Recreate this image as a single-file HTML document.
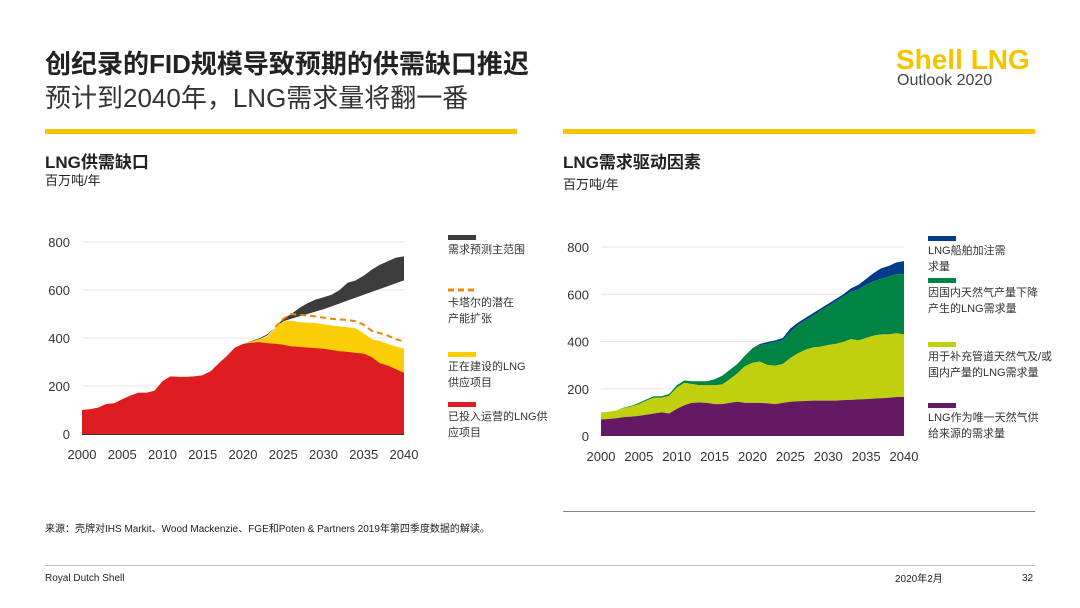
<!DOCTYPE html>
<html><head><meta charset="utf-8">
<style>
body{margin:0;width:1080px;height:608px;background:#fff;position:relative;overflow:hidden;font-family:"Liberation Sans","Noto Sans CJK SC",sans-serif;color:#222}
.a{position:absolute;white-space:nowrap}
</style></head><body>
<div class="a" style="left:45px;top:44px;font-size:26px;font-weight:bold;color:#222">创纪录的FID规模导致预期的供需缺口推迟</div>
<div class="a" style="left:45px;top:78px;font-size:26px;color:#333">预计到2040年，LNG需求量将翻一番</div>
<div class="a" style="left:896px;top:44px;font-size:28px;font-weight:bold;color:#f5c400">Shell LNG</div>
<div class="a" style="left:897px;top:72px;font-size:16px;color:#444">Outlook 2020</div>
<div class="a" style="left:45px;top:129px;width:472px;height:5px;background:#f5c400"></div>
<div class="a" style="left:563px;top:129px;width:472px;height:5px;background:#f5c400"></div>
<div class="a" style="left:45px;top:148px;font-size:17px;font-weight:bold">LNG供需缺口</div>
<div class="a" style="left:45px;top:170px;font-size:13px">百万吨/年</div>
<div class="a" style="left:563px;top:148px;font-size:17px;font-weight:bold">LNG需求驱动因素</div>
<div class="a" style="left:563px;top:174px;font-size:13px">百万吨/年</div>
<div class="a" style="left:563px;top:511px;width:472px;height:1px;background:#888"></div>
<div class="a" style="left:45px;top:520px;font-size:10px">来源：壳牌对IHS Markit、Wood Mackenzie、FGE和Poten &amp; Partners 2019年第四季度数据的解读。</div>
<div class="a" style="left:45px;top:565px;width:990px;height:1px;background:#bbb"></div>
<div class="a" style="left:45px;top:573px;font-size:10px">Royal Dutch Shell</div>
<div class="a" style="left:895px;top:570px;font-size:10px">2020年2月</div>
<div class="a" style="left:1022px;top:573px;font-size:10px">32</div>
<svg class="a" style="left:0;top:0" width="1080" height="608" id="svg"></svg>
<script>
const years=[];for(let y=2000;y<=2040;y++)years.push(y);
const xTicks=[2000,2005,2010,2015,2020,2025,2030,2035,2040];
const yTicks=[0,200,400,600,800];
// left chart data
const operating=[100,103,110,125,128,145,160,172,172,180,220,240,238,238,240,245,262,295,325,360,375,380,383,378,376,372,365,363,360,358,355,350,345,342,338,335,320,295,285,270,255];
const underConstruction=[100,103,110,125,128,145,160,172,172,180,220,240,238,238,240,245,262,295,325,360,375,385,395,405,440,470,472,466,464,462,458,452,448,445,440,420,395,388,375,365,355];
const demandLow=[null,null,null,null,null,null,null,null,null,null,null,null,null,null,null,null,null,null,null,null,375,385,395,410,445,470,480,490,500,510,520,532,544,556,568,580,592,604,616,628,640];
const demandHigh=[null,null,null,null,null,null,null,null,null,null,null,null,null,null,null,null,null,null,null,null,375,387,398,415,445,480,500,525,545,560,570,580,600,630,640,660,685,705,720,735,740];
const qatar=[null,null,null,null,null,null,null,null,null,null,null,null,null,null,null,null,null,null,null,null,null,null,null,null,445,480,500,497,493,490,485,480,477,475,470,455,430,420,410,395,385];
// right chart (cumulative tops)
const soleSource=[70,72,75,80,82,85,90,95,100,95,115,130,140,142,140,135,135,140,145,140,140,140,138,135,140,145,147,148,150,150,150,150,152,153,155,156,158,160,162,165,165];
const pipelineTop=[100,102,108,118,125,135,150,162,162,170,205,225,220,215,215,215,218,240,265,295,310,315,300,298,305,330,350,365,375,378,385,390,398,410,405,415,425,430,430,435,430];
const domesticTop=[100,102,108,120,128,140,155,168,168,178,215,235,232,232,232,240,255,280,305,340,370,385,390,398,405,440,470,490,510,530,550,570,590,610,620,640,655,665,675,685,685];
const bunkerTop=[100,102,108,120,128,140,155,168,168,178,215,235,232,232,232,240,255,280,305,340,372,390,398,405,415,455,480,500,520,540,560,580,600,625,640,665,690,710,720,735,740];

const svg=document.getElementById('svg');const NS='http://www.w3.org/2000/svg';
function mk(t,a,p){const e=document.createElementNS(NS,t);for(const k in a)e.setAttribute(k,a[k]);(p||svg).appendChild(e);return e;}
function makeAxes(x0,x1,y0,y1){return{x:y=>x0+(y-2000)/40*(x1-x0),y:v=>y0-(v/800)*(y0-y1)};}
function area(ax,top,bot,fill,name){let pts=[],bp=[];years.forEach((yr,i)=>{if(top[i]==null)return;pts.push(ax.x(yr)+','+ax.y(top[i]));bp.unshift(ax.x(yr)+','+ax.y(bot?bot[i]:0));});
 const e=mk('polygon',{points:pts.concat(bp).join(' '),fill:fill});
 
 }
function grid(ax,x0,x1,name){yTicks.forEach(v=>{if(v>0)mk('line',{x1:x0,x2:x1,y1:ax.y(v),y2:ax.y(v),stroke:'#e6e6e6','stroke-width':1});
 const t=mk('text',{x:x0-12,y:ax.y(v)+5,'text-anchor':'end','font-size':13,fill:'#333'});t.textContent=v;
 
 });
 xTicks.forEach(yr=>{const t=mk('text',{x:ax.x(yr),y:ax.y(0)+25,'text-anchor':'middle','font-size':13,fill:'#333'});t.textContent=yr;
 
 });}
// left
const L=makeAxes(82,404,434,242);
grid(L,82,404,'left');
area(L,demandHigh,demandLow,'#3c3c3c','demand-range');
area(L,underConstruction,null,'#fbce07','under-construction-area');
area(L,operating,null,'#dd1d21','operating-area');
let qp=[];years.forEach((yr,i)=>{if(qatar[i]!=null)qp.push(L.x(yr)+','+L.y(qatar[i]));});
const ql=mk('polyline',{points:qp.join(' '),fill:'none',stroke:'#eb8705','stroke-width':2,'stroke-dasharray':'6,4'});


mk('line',{x1:82,x2:404,y1:434.5,y2:434.5,stroke:'#333','stroke-width':1});
// right
const R=makeAxes(601,904,436,247);
grid(R,601,904,'right');
area(R,bunkerTop,domesticTop,'#003c88','bunker-area');
area(R,domesticTop,pipelineTop,'#008443','domestic-decline-area');
area(R,pipelineTop,soleSource,'#c0d00f','pipeline-supplement-area');
area(R,soleSource,null,'#641964','sole-source-area');
// legends
function legend(x,y,color,lines,name,dash){const g=mk('g',{});
 if(dash)mk('line',{x1:x,x2:x+28,y1:y+2,y2:y+2,stroke:color,'stroke-width':3,'stroke-dasharray':'6,4'},g);else mk('rect',{x:x,y:y,width:28,height:5,fill:color},g);
 lines.forEach((l,i)=>{const t=mk('text',{x:x,y:y+18+i*16,'font-size':11,fill:'#333'},g);t.textContent=l;});}
legend(448,235,'#3c3c3c',['需求预测主范围'],'legend-demand-range');
legend(448,288,'#eb8705',['卡塔尔的潜在','产能扩张'],'legend-qatar',true);
legend(448,352,'#fbce07',['正在建设的LNG','供应项目'],'legend-under-construction');
legend(448,402,'#dd1d21',['已投入运营的LNG供','应项目'],'legend-operating');
legend(928,236,'#003c88',['LNG船舶加注需','求量'],'legend-bunker');
legend(928,278,'#008443',['因国内天然气产量下降','产生的LNG需求量'],'legend-domestic-decline');
legend(928,342,'#c0d00f',['用于补充管道天然气及/或','国内产量的LNG需求量'],'legend-pipeline');
legend(928,403,'#641964',['LNG作为唯一天然气供','给来源的需求量'],'legend-sole-source');
</script>
</body></html>
